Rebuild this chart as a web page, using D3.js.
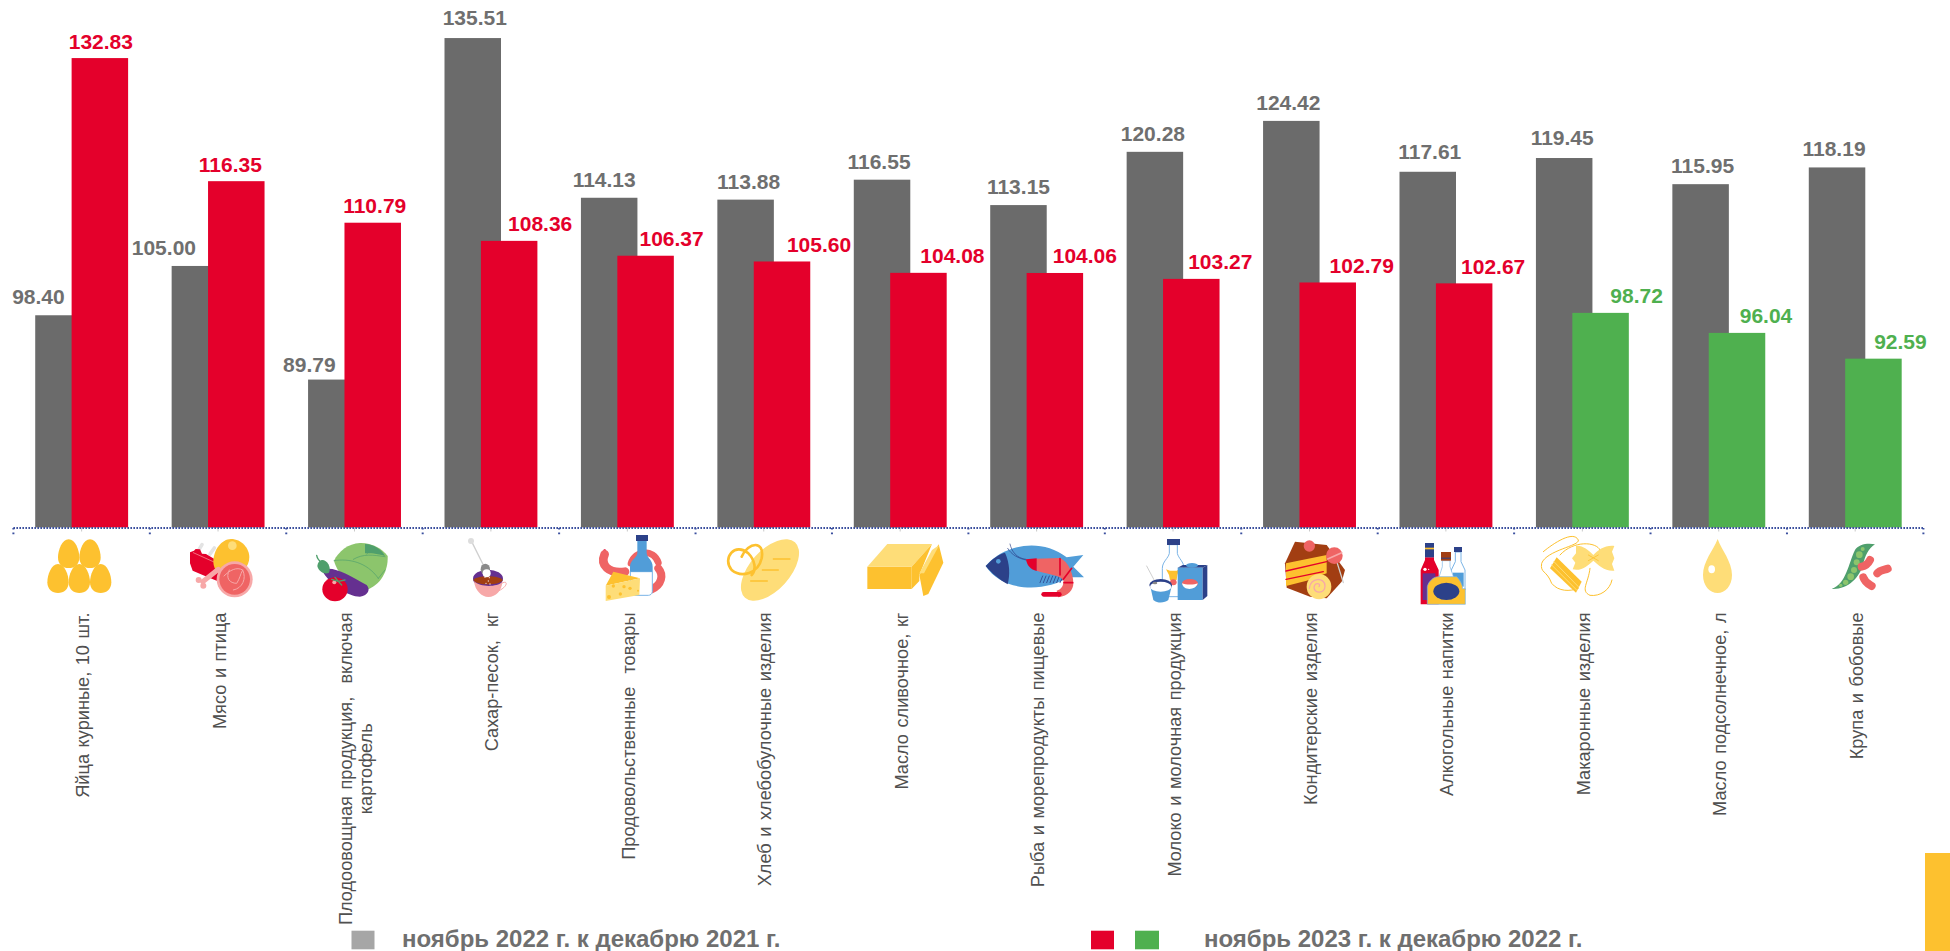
<!DOCTYPE html>
<html lang="ru"><head><meta charset="utf-8">
<style>html,body{margin:0;padding:0;background:#fff;overflow:hidden}svg{display:block}text{font-family:"Liberation Sans",Arial,sans-serif}</style>
<script src="https://cdn.jsdelivr.net/npm/d3@7/dist/d3.min.js"></script>
</head><body><svg id="c" width="1950" height="951"></svg>
<script>
const categories = ["Яйца куриные, 10 шт.","Мясо и птица","Плодоовощная продукция,  включая|картофель","Сахар-песок,  кг","Продовольственные  товары","Хлеб и хлебобулочные изделия","Масло сливочное, кг","Рыба и морепродукты пищевые","Молоко и молочная продукция","Кондитерские изделия","Алкогольные напитки","Макаронные изделия","Масло подсолнечное, л","Крупа и бобовые"];
const values2022 = [98.40,105.00,89.79,135.51,114.13,113.88,116.55,113.15,120.28,124.42,117.61,119.45,115.95,118.19];
const values2023 = [132.83,116.35,110.79,108.36,106.37,105.60,104.08,104.06,103.27,102.79,102.67,98.72,96.04,92.59];
const legend2022 = "ноябрь 2022 г. к декабрю 2021 г.";
const legend2023 = "ноябрь 2023 г. к декабрю 2022 г.";

const C={gray:"#6b6b6b",red:"#e4002b",green:"#4fb04f",yel:"#fdc12f",lyel:"#fedd78",navy:"#2c4189",blue:"#519dd8",coral:"#ef6464",pink:"#f7a8a8",purple:"#653090",brown:"#a23e12",lg:"#8cc56c",dg:"#4f9f6c",sky:"#7ab4e6"};
const svg=d3.select("#c");
const x=d3.scaleBand().domain(d3.range(categories.length)).range([13.4,1923.4]);
const y=d3.scaleLinear().domain([70,136]).range([527.4,34.4]);
const barW=56.5;
const offs=d3.scalePoint().domain(["a","b"]).range([-46.4,-10]);

const bars=svg.append("g");
bars.selectAll(".a").data(values2022).join("rect").attr("x",(d,i)=>x(i)+x.bandwidth()/2+offs("a")).attr("y",d=>y(d)).attr("width",barW).attr("height",d=>y(70)-y(d)).attr("fill",C.gray);
const col23=d=>d<100?C.green:C.red;
bars.selectAll(".b").data(values2023).join("rect").attr("x",(d,i)=>x(i)+x.bandwidth()/2+offs("b")).attr("y",d=>y(d)).attr("width",barW).attr("height",d=>y(70)-y(d)).attr("fill",col23);

// value labels, nudged off the bars like the source
const nudgeA=[-25,-36,-27,2,-5,3,-3,0,-2,-3,2,-2,2,-3];
const liftA=[11,11,8,13,11,11,11,11,11,11,13,13,11,11];
const nudgeB=[1,-6,2,31,26,37,34,30,29,34,29,36,29,27];
const fmt=d3.format(".2f");
const lab=svg.append("g").attr("font-size",21).attr("font-weight",700).attr("text-anchor","middle");
lab.selectAll(".a").data(values2022).join("text").attr("x",(d,i)=>x(i)+x.bandwidth()/2+offs("a")+barW/2+nudgeA[i]).attr("y",(d,i)=>y(d)-liftA[i]).attr("fill","#6f6f6f").text(fmt);
lab.selectAll(".b").data(values2023).join("text").attr("x",(d,i)=>x(i)+x.bandwidth()/2+offs("b")+barW/2+nudgeB[i]).attr("y",d=>y(d)-9.5).attr("fill",col23).text(fmt);

// axis
const ax=svg.append("g").attr("transform","translate(0,527.5)").call(d3.axisBottom(x).tickSize(4).tickFormat(""));
ax.select(".domain").remove();
ax.selectAll(".tick line").attr("stroke","#c9c9c9").attr("stroke-width",1);
const axl=svg.append("g").attr("stroke","#3a4f9e").attr("fill","none").attr("stroke-width",2);
axl.append("line").attr("x1",x.range()[0]).attr("x2",x.range()[1]).attr("y1",528).attr("y2",528).attr("stroke-dasharray","1.6 1.4");
axl.selectAll(".t").data(d3.range(categories.length+1)).join("line").attr("x1",i=>x.range()[0]+i*x.step()).attr("x2",i=>x.range()[0]+i*x.step()).attr("y1",528).attr("y2",535).attr("stroke-dasharray","1.6 3");

// category labels
const tl=svg.append("g").attr("font-size",18.2).attr("fill","#505050").style("word-spacing","1.5px");
categories.forEach((c,i)=>{
  const lines=c.split("|");
  const g=tl.append("g").attr("transform",`translate(${x(i)+x.bandwidth()/2+(lines.length>1?-10.2:0)},612.5) rotate(-90)`);
  const first=g.append("text").attr("text-anchor","end").attr("y",7.5).style("white-space","pre").text(lines[0]);
  if(lines[1]){
    const w=first.node().getComputedTextLength();
    g.append("text").attr("text-anchor","middle").attr("x",-w/2).attr("y",27.5).text(lines[1]);
  }
});

// legend
const lg=svg.append("g");
lg.append("rect").attr("x",351.5).attr("y",930.7).attr("width",23).attr("height",18.6).attr("fill","#a6a6a6");
lg.append("rect").attr("x",1091).attr("y",930.7).attr("width",23).attr("height",18.6).attr("fill",C.red);
lg.append("rect").attr("x",1135).attr("y",930.7).attr("width",24).attr("height",18.6).attr("fill",C.green);
const lt=lg.append("g").attr("font-size",24).attr("font-weight",700).attr("fill","#6f6f6f");
lt.append("text").attr("x",402).attr("y",946.5).text(legend2022);
lt.append("text").attr("x",1204).attr("y",946.5).text(legend2023);
svg.append("rect").attr("x",1925).attr("y",853).attr("width",25).attr("height",98).attr("fill",C.yel);

// pictograms, authored in a 3x local grid
const egg=(c,t,h,w)=>`M${c},${t}C${c+.62*w},${t} ${c+w},${t+.38*h} ${c+w},${t+.63*h}C${c+w},${t+.87*h} ${c+.55*w},${t+h} ${c},${t+h}C${c-.55*w},${t+h} ${c-w},${t+.87*h} ${c-w},${t+.63*h}C${c-w},${t+.38*h} ${c-.62*w},${t} ${c},${t}Z`;
const P=(d,f,extra)=>`<path d="${d}" fill="${f}" ${extra||""}/>`;
const S=(d,s,w,extra)=>`<path d="${d}" fill="none" stroke="${s}" stroke-width="${w}" stroke-linecap="round" stroke-linejoin="round" ${extra||""}/>`;
const O=(x,y,r,f,ry,extra)=>`<ellipse cx="${x}" cy="${y}" rx="${r}" ry="${ry||r}" fill="${f}" ${extra||""}/>`;
const icons=[
 [20,[146,210].map(c=>P(egg(c,58,86,32),C.yel)).join("")+[114,178,242].map(c=>P(egg(c,132,87,32),C.yel)).join("")],
 [20,S("M535,92L546,74","#e3e3e3",11)+S("M570,102L583,84","#e3e3e3",11)
  +P("M510,97L522,92L527,87L540,88L546,101L558,102L582,116L600,172L590,182L548,165L518,152L510,130Z",C.red)
  +S("M520,98L582,126",C.pink,2)
  +P("M633,57C665,57 688,85 688,112C688,140 665,165 633,172C600,172 580,150 580,125C580,90 605,57 633,57Z",C.yel)
  +O(637,77,13,C.lyel)
  +S("M595,148L548,185",C.pink,15)+O(536,180,9,C.pink)+O(550,197,9,C.pink)
  +O(644,178,54,C.pink)+O(644,178,46,C.coral)
  +S("M612,168C630,150 650,140 668,150C680,175 668,205 640,210M628,150C615,175 630,190 650,190C660,175 660,165 668,150",C.pink,3)],
 [20,P("M1020,69C1055,68 1085,85 1103,108C1105,150 1085,195 1035,212C1000,205 955,170 942,122C955,95 985,70 1020,69Z",C.lg)
  +P("M1035,72C1060,72 1085,88 1095,108C1070,100 1050,100 1035,100Z",C.dg)
  +S("M942,122C985,115 1040,125 1075,175M1000,118C1030,100 1060,105 1095,110M1040,102L1060,85M1075,175L1095,150",C.dg,2)
  +P("M905,150C940,135 985,165 1040,195C1052,208 1045,226 1020,230C985,230 930,195 905,150Z",C.purple)
  +S("M890,106C892,118 897,122 905,128",C.dg,4)+P("M905,120C920,118 935,140 927,158C915,165 895,155 892,138C893,128 898,122 905,120Z",C.dg)
  +O(945,208,38,C.red,36)+O(943,187,6,C.pink)+S("M935,178L955,184L975,180M955,184L945,172M955,184L965,195",C.dg,4)],
 [440,S("M95,65L130,135","#cfcfcf",4)+O(93,63,9,"#ddd")
  +O(144,176,45,C.purple,27)+P("M100,180C110,165 178,165 188,180C185,195 110,200 100,180Z",C.brown)
  +S("M185,190C205,178 205,200 175,213",C.pink,3)
  +P("M102,184C120,202 170,202 187,186C185,212 168,231 145,231C125,231 105,212 102,184Z",C.pink)
  +O(136,148,14,"#8a8a8a",17)+O(140,160,12,"#fff")+[[135,172],[148,173],[145,183],[138,190],[150,192]].map(p=>O(p[0],p[1],2,"#f3e3db")).join("")],
 [440,O(494,92,4,C.red)+S("M494,103C480,135 505,162 555,155",C.coral,26)
  +S("M573,130C585,90 640,85 655,128",C.coral,20)+S("M655,145C672,165 665,195 635,208",C.coral,24)
  +P("M571,155H637V215C637,222 630,226 625,226H583C576,226 571,220 571,215Z","#fff",`stroke="${C.sky}" stroke-width="3"`)
  +P("M592,62H620V100C622,115 638,120 638,140V155H570V140C570,120 590,115 592,100Z",C.blue)
  +`<rect x="588" y="45" width="36" height="18" fill="${C.navy}"/>`
  +P("M497,197L520,155L600,175Z",C.yel)+P("M497,197L600,175L598,225L497,243Z",C.lyel)
  +[[507,231,6],[520,198,5],[552,200,5],[570,205,5],[541,222,5],[594,212,3]].map(p=>O(p[0],p[1],p[2],C.yel)).join("")],
 [440,`<ellipse cx="990" cy="150" rx="112" ry="60" fill="${C.lyel}" transform="rotate(-48 990 150)"/>`
  +S("M1000,117H1050M967,150H1015M932,183H982",C.yel,4)
  +S("M905,110C925,65 975,60 965,115C955,160 905,175 875,150C845,115 885,65 925,100C945,120 950,150 935,165",C.yel,8)],
 [860,P("M22,140H155V207H22Z",C.yel)+P("M22,140L82,72H216L155,140Z",C.lyel)+P("M155,140L216,72L178,165V183L155,207Z",C.yel)
  +P("M178,165L236,73L250,128L205,222L190,228Z",C.yel)+P("M178,160L216,90L238,75L192,160Z",C.lyel)],
 [860,P("M377,138C430,75 540,50 620,112L670,105L640,140L672,172L625,172C560,215 430,220 377,138Z",C.blue)
  +P("M377,138C395,118 420,100 435,98C450,130 450,165 443,193C420,180 395,160 377,138Z",C.navy)+O(415,124,7,C.blue)
  +S("M450,72C455,95 470,115 498,118M443,85C455,105 475,115 498,120",C.navy,2)
  +S("M540,188L548,168M550,188L558,168M560,188L568,168M570,188L578,168M580,188L588,168M590,188L598,168M600,188L608,172",C.navy,2.5)
  +P("M528,116L600,114C625,125 640,160 640,190C640,210 625,228 595,232L590,212C605,208 612,195 610,180C600,165 570,165 530,152Z",C.coral)
  +P("M498,118L530,115V153C512,150 500,135 498,118Z",C.red)
  +S("M600,116V165M635,145L610,178M612,188H638",C.red,5)+S("M551,223H598",C.red,14)],
 [860,P("M928,74H952V100C955,115 972,125 972,145V230H907V145C907,125 925,115 928,100Z","#fff",`stroke="${C.sky}" stroke-width="3"`)
  +`<rect x="921" y="57" width="39" height="18" fill="${C.navy}"/>`
  +P("M918,148L930,152H950L958,148L952,165L950,180H930L927,165Z",C.yel)+O(940,187,10,C.coral,9)
  +P("M953,143L968,135H1042L1028,143Z",C.navy)+`<rect x="953" y="143" width="75" height="97" fill="${C.blue}"/>`
  +P("M1028,143L1042,135V228L1028,240Z",C.navy)+O(996,136,18,C.blue,7)
  +O(990,190,24,C.coral,13)+P("M966,190C975,195 1005,195 1013,190C1010,210 970,215 966,190Z","#fff")
  +S("M860,138L885,185","#cfcfcf",3)
  +P("M870,195L880,240C895,252 915,248 925,240L936,195Z",C.blue)+O(902,195,34,C.navy,18)+O(902,200,32,"#fff",15)+O(885,189,7,"#888",4)],
 [1280,P("M15,130L45,65L140,75L195,150L185,185L140,235L90,230L20,203Z",C.brown)
  +P("M18,130L140,105V160L80,182L18,198Z",C.yel)+S("M18,153L140,125M18,178L130,155",C.red,4)
  +O(88,78,17,C.coral)+S("M172,130L190,188","#d0d0d0",4)+O(163,107,25,C.coral)+S("M143,117L185,98",C.pink,5)
  +O(117,200,37,C.lyel,38)+S("M117,200C125,190 105,185 102,202C102,222 135,222 135,198C135,170 90,172 88,205",C.pink,4)],
 [1280,P("M435,112H462V120L476,150V253H422V150L435,120Z",C.red)+`<rect x="435" y="69" width="27" height="43" fill="${C.navy}"/><rect x="435" y="83" width="27" height="5" fill="${C.yel}"/><rect x="428" y="160" width="38" height="80" fill="${C.purple}"/>`
  +O(435,148,5,"#fff")+O(446,148,2,"#fff")
  +P("M526,96H543V125L555,150V210H514V150L526,125Z","#fff",`stroke="${C.sky}" stroke-width="3"`)+`<rect x="522" y="81" width="24" height="15" fill="${C.navy}"/><rect x="518" y="158" width="33" height="42" fill="${C.blue}"/>`
  +P("M487,122H510V140L522,175H476L487,140Z","#fff",`stroke="${C.sky}" stroke-width="2"`)+`<rect x="483" y="96" width="30" height="26" fill="${C.brown}"/><rect x="483" y="113" width="30" height="3" fill="${C.navy}"/>`
  +P("M442,253V200C445,185 460,170 475,170H530C540,180 548,195 548,206H556V253Z",C.yel,`stroke="${C.sky}" stroke-width="2"`)+O(499,214,39,C.navy,26)],
 [1280,S("M790,95C820,70 880,30 895,60C900,78 800,90 785,130C780,160 800,150 815,190C835,215 870,215 895,205M840,105C880,60 950,65 960,90M930,145C925,190 900,212 930,226C960,230 990,210 996,180",C.yel,3)
  +P("M830,112L905,185L888,218L810,145Z",C.yel)+S("M822,125L895,200M815,135L890,210",C.lyel,3)
  +P("M888,78C905,75 925,90 940,105C955,90 975,75 1003,78L996,95L1003,115L996,132L1003,152C975,155 955,135 940,122C925,135 905,155 878,148L886,128L876,115L888,100Z",C.lyel)
  +S("M925,105L955,122M925,122L955,105",C.yel,2.5)],
 [1680,P("M113,57C125,90 156,125 156,165C156,198 135,219 113,219C90,219 69,198 69,165C69,125 100,90 113,57Z",C.lyel)+O(95,148,10,"#fff",12)],
 [1680,P("M455,207C500,190 505,130 525,90C535,72 565,68 585,73C565,85 555,110 550,130C540,175 500,210 455,207Z",C.dg)
  +[[482,196,5],[497,187,8],[512,170,10],[522,150,9],[530,127,9],[538,104,10],[548,87,6]].map(p=>O(p[0],p[1],p[2],C.lg)).join("")
  +S("M545,140C555,138 565,130 570,120",C.coral,24)+S("M592,160C600,150 615,150 623,146",C.coral,24)+S("M550,172C555,188 565,192 575,198",C.coral,24)]
];
svg.append("g").selectAll("g").data(icons).join("g")
  .attr("transform",d=>`translate(${d[0]},520) scale(${1/3})`).html(d=>d[1]);
</script></body></html>
